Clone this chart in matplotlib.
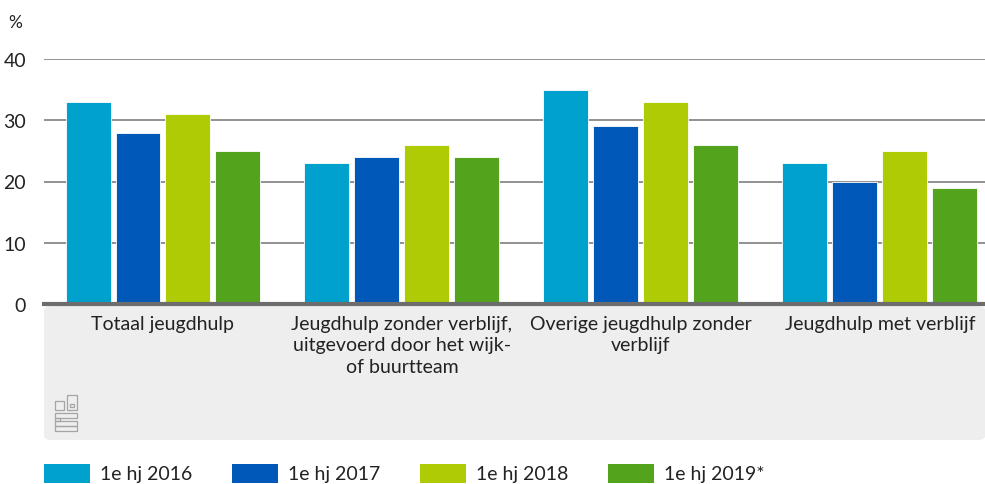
import matplotlib.pyplot as plt
import numpy as np
from matplotlib.patches import FancyBboxPatch, Rectangle

plt.rcParams['font.family'] = ['Lato', 'DejaVu Sans']

categories = ['Totaal jeugdhulp',
              'Jeugdhulp zonder verblijf,\nuitgevoerd door het wijk-\nof buurtteam',
              'Overige jeugdhulp zonder\nverblijf',
              'Jeugdhulp met verblijf']
series = ['1e hj 2016', '1e hj 2017', '1e hj 2018', '1e hj 2019*']
v2016 = [33, 23, 35, 23]
v2017 = [28, 24, 29, 20]
v2018 = [31, 26, 33, 25]
v2019 = [25, 24, 26, 19]
values = [v2016, v2017, v2018, v2019]
colors = ['#00a1cd', '#0058b8', '#afcb05', '#53a31d']

W, H = 985, 485
fig = plt.figure(figsize=(W / 100, H / 100), dpi=100)

# grey band under the axis
band = FancyBboxPatch((44 / W, (H - 441) / H), (985 - 44) / W, (441 - 307) / H,
                      boxstyle='round,pad=0,rounding_size=0.008',
                      transform=fig.transFigure, facecolor='#eeeeee',
                      edgecolor='none', zorder=-5)
fig.patches.append(band)

ax = fig.add_axes([44 / W, (H - 305) / H, (985 - 44) / W, (305 - 60) / H])
ax.patch.set_alpha(0)
ax.set_zorder(2)

x = np.arange(len(categories))
step = 50 / 239
width = 45 / 239
for i, (vals, c) in enumerate(zip(values, colors)):
    ax.bar(x + (i - 1.5) * step, vals, width=width, color=c,
           edgecolor='white', linewidth=0.6, zorder=3)

ax.set_xlim(-0.498, 3.44)
ax.set_ylim(0, 40)
ax.set_yticks([0, 10, 20, 30, 40])
ax.yaxis.grid(True, color='#7f7f7f', linewidth=1.2, zorder=0)
ax.set_axisbelow(True)
for s in ['top', 'right', 'left']:
    ax.spines[s].set_visible(False)
ax.spines['bottom'].set_color('#6d6d6d')
ax.spines['bottom'].set_linewidth(3)
ax.spines['bottom'].set_zorder(4)
ax.tick_params(axis='y', length=0, pad=13, labelsize=14, labelcolor='#222222')
ax.set_xticks(x)
ax.set_xticklabels(categories, fontsize=14, color='#222222', linespacing=1.3)
ax.tick_params(axis='x', length=0, pad=8)

fig.text(8 / W, 1 - 28 / H, '%', fontsize=12.5, color='#222222')

# cbs logo (rough outline)
lx, ly = 55, 396
def box(x0, y0, w, h):
    fig.patches.append(Rectangle(((lx + x0) / W, (H - ly - y0 - h) / H), w / W, h / H,
                                 transform=fig.transFigure, facecolor='none',
                                 edgecolor='#a5a5a5', linewidth=0.9))
box(0, 6, 9, 9)
box(12, 0, 10, 15)
box(15, 9, 4, 3)
box(0, 18, 22, 5)
box(0, 23, 5, 3)
box(0, 26, 22, 5)
box(0, 31, 22, 5)

# legend
for i, (s, c) in enumerate(zip(series, colors)):
    x0 = 44 + i * 188
    fig.patches.append(Rectangle((x0 / W, (H - 484) / H), 46 / W, 19 / H,
                                 transform=fig.transFigure, facecolor=c,
                                 edgecolor='none'))
    fig.text((x0 + 56) / W, (H - 475) / H, s, fontsize=14, color='#222222',
             va='center')

fig.savefig('out.png', dpi=100)
